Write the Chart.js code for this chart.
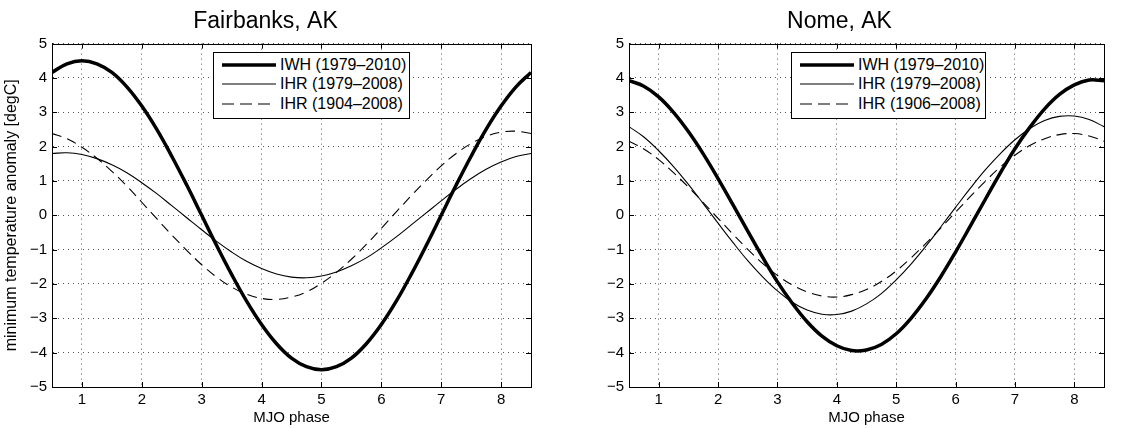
<!DOCTYPE html>
<html>
<head>
<meta charset="utf-8">
<script src="https://cdn.jsdelivr.net/npm/chart.js@4"></script>
<style>
  html, body { margin: 0; padding: 0; background: #fff; overflow: hidden; }
  body { width: 1135px; height: 428px; position: relative; font-family: "Liberation Sans", Arial, sans-serif; }
  .panel { position: absolute; top: 0; height: 428px; }
  .legend { position: absolute; top: 52px; height: 67px; background: #fff; border: 1px solid #000; font-size: 16px; color: #000; box-sizing: border-box; padding: 2px 0 0 8px; }
  .legend .row { height: 19.5px; display: flex; align-items: center; white-space: nowrap; }
  .legend svg { margin-right: 4px; }
</style>
</head>
<body>
<div class="panel" style="left:0;width:565px"><canvas id="fairbanksChart"></canvas></div>
<div class="panel" style="left:575px;width:560px"><canvas id="nomeChart"></canvas></div>
<div class="legend" id="legendFairbanks" style="left:213px;width:197px"></div>
<div class="legend" id="legendNome" style="left:791px;width:195px"></div>

<script>
// MJO phase sampled every quarter phase
const phases = [0.5, 0.75, 1, 1.25, 1.5, 1.75, 2, 2.25, 2.5, 2.75, 3, 3.25, 3.5, 3.75, 4, 4.25, 4.5,
                4.75, 5, 5.25, 5.5, 5.75, 6, 6.25, 6.5, 6.75, 7, 7.25, 7.5, 7.75, 8, 8.25, 8.5];
const yTicks = [-5, -4, -3, -2, -1, 0, 1, 2, 3, 4, 5];
const xTicks = [1, 2, 3, 4, 5, 6, 7, 8];

// Fairbanks, AK
const fairbanksIWH = [4.16, 4.41, 4.5, 4.41, 4.16, 3.74, 3.18, 2.5, 1.72, 0.88, 0.0, -0.88, -1.72, -2.5, -3.18, -3.74, -4.16,
                      -4.41, -4.5, -4.41, -4.16, -3.74, -3.18, -2.5, -1.72, -0.88, 0.0, 0.88, 1.72, 2.5, 3.18, 3.74, 4.16];
const fairbanksIHR79 = [1.8, 1.82, 1.77, 1.65, 1.47, 1.24, 0.95, 0.63, 0.28, -0.07, -0.42, -0.76, -1.07, -1.34, -1.55, -1.71, -1.8,
                        -1.82, -1.77, -1.65, -1.47, -1.24, -0.95, -0.63, -0.28, 0.07, 0.42, 0.76, 1.07, 1.34, 1.55, 1.71, 1.8];
const fairbanksIHR04 = [2.38, 2.23, 1.98, 1.66, 1.28, 0.85, 0.38, -0.1, -0.57, -1.02, -1.44, -1.8, -2.09, -2.3, -2.42, -2.45, -2.38,
                        -2.23, -1.98, -1.66, -1.28, -0.85, -0.38, 0.1, 0.57, 1.02, 1.44, 1.8, 2.09, 2.3, 2.42, 2.45, 2.38];

// Nome, AK
const nomeIWH = [3.92, 3.76, 3.45, 3.0, 2.44, 1.79, 1.07, 0.31, -0.46, -1.22, -1.94, -2.56, -3.1, -3.52, -3.8, -3.94, -3.92,
                 -3.76, -3.45, -3.0, -2.44, -1.79, -1.07, -0.31, 0.46, 1.22, 1.94, 2.56, 3.1, 3.52, 3.8, 3.94, 3.92];
const nomeIHR79 = [2.58, 2.28, 1.88, 1.42, 0.9, 0.34, -0.23, -0.79, -1.32, -1.79, -2.2, -2.53, -2.76, -2.88, -2.89, -2.79, -2.58,
                   -2.28, -1.88, -1.42, -0.9, -0.34, 0.23, 0.79, 1.32, 1.79, 2.2, 2.53, 2.76, 2.88, 2.89, 2.79, 2.58];
const nomeIHR06 = [2.16, 1.93, 1.62, 1.24, 0.82, 0.37, -0.09, -0.55, -0.99, -1.4, -1.75, -2.03, -2.23, -2.35, -2.38, -2.31, -2.16,
                   -1.93, -1.62, -1.24, -0.82, -0.37, 0.09, 0.55, 0.99, 1.4, 1.75, 2.03, 2.23, 2.35, 2.38, 2.31, 2.16];

const fairbanksLabels = ["IWH (1979\u20132010)", "IHR (1979\u20132008)", "IHR (1904\u20132008)"];
const nomeLabels = ["IWH (1979\u20132010)", "IHR (1979\u20132008)", "IHR (1906\u20132008)"];

Chart.defaults.font.family = '"Liberation Sans", Arial, sans-serif';
Chart.defaults.color = "#000";

const lineStyles = [
    { borderWidth: 3.5, borderDash: [] },
    { borderWidth: 1.1, borderDash: [] },
    { borderWidth: 1.1, borderDash: [10, 6] }
];

function toPoints(values) {
    return phases.map((p, i) => ({ x: p, y: values[i] }));
}

// box round the plot plus inward tick marks, like the original figure
const frameBox = {
    id: "frameBox",
    afterDatasetsDraw(chart) {
        const { ctx, chartArea: a, scales } = chart;
        ctx.save();
        ctx.strokeStyle = "#000";
        ctx.lineWidth = 1;
        ctx.setLineDash([]);
        ctx.strokeRect(Math.round(a.left) + 0.5, Math.round(a.top) + 0.5, Math.round(a.right - a.left), Math.round(a.bottom - a.top));
        ctx.beginPath();
        xTicks.forEach(v => {
            const px = Math.round(scales.x.getPixelForValue(v)) + 0.5;
            ctx.moveTo(px, a.top); ctx.lineTo(px, a.top + 5);
            ctx.moveTo(px, a.bottom); ctx.lineTo(px, a.bottom - 5);
        });
        yTicks.forEach(v => {
            const py = Math.round(scales.y.getPixelForValue(v)) + 0.5;
            ctx.moveTo(a.left, py); ctx.lineTo(a.left + 5, py);
            ctx.moveTo(a.right, py); ctx.lineTo(a.right - 5, py);
        });
        ctx.stroke();
        ctx.restore();
    }
};

const gridStyle = { color: "#555", lineWidth: 1, drawTicks: false };
const borderStyle = { display: true, color: "#000", width: 1, dash: [1, 4] };

function makeChart(canvasId, title, seriesList, labels, opts) {
    const datasets = seriesList.map((values, i) => ({
        label: labels[i],
        data: toPoints(values),
        borderColor: "#000",
        borderWidth: lineStyles[i].borderWidth,
        borderDash: lineStyles[i].borderDash,
        pointRadius: 0,
        tension: 0.4,
        fill: false
    }));
    return new Chart(document.getElementById(canvasId), {
        type: "line",
        data: { datasets },
        options: {
            responsive: true,
            maintainAspectRatio: false,
            animation: false,
            events: [],
            layout: { padding: { left: opts.padLeft, right: opts.padRight, top: 0, bottom: 0 } },
            plugins: {
                legend: { display: false },
                tooltip: { enabled: false },
                title: {
                    display: true,
                    text: title,
                    font: { size: 23, weight: "normal" },
                    padding: { top: 8, bottom: 8 }
                }
            },
            scales: {
                x: {
                    type: "linear",
                    min: 0.5,
                    max: 8.5,
                    afterBuildTicks: axis => { axis.ticks = xTicks.map(v => ({ value: v })); },
                    afterFit: axis => { axis.height = 41; },
                    ticks: { font: { size: 15 }, padding: 4 },
                    grid: gridStyle,
                    border: borderStyle,
                    title: { display: true, text: "MJO phase", font: { size: 15 }, padding: { top: 0, bottom: 1 } }
                },
                y: {
                    min: -5,
                    max: 5,
                    afterBuildTicks: axis => { axis.ticks = yTicks.map(v => ({ value: v })); },
                    afterFit: axis => { axis.width = opts.yWidth; },
                    ticks: { font: { size: 15 }, padding: 5, callback: v => String(v).replace("-", "\u2212") },
                    grid: gridStyle,
                    border: borderStyle,
                    title: {
                        display: opts.yTitle,
                        text: "minimum temperature anomaly [degC]",
                        font: { size: 16 },
                        padding: { top: 2, bottom: 0 }
                    }
                }
            }
        },
        plugins: [frameBox]
    });
}

function buildLegend(id, labels) {
    const box = document.getElementById(id);
    labels.forEach((text, i) => {
        const s = lineStyles[i];
        const row = document.createElement("div");
        row.className = "row";
        row.innerHTML = '<svg width="54" height="6"><line x1="0" y1="3" x2="54" y2="3" stroke="#000" stroke-width="' +
            s.borderWidth + '" stroke-dasharray="' + (s.borderDash.length ? "12,6" : "none") + '"/></svg>' +
            '<span>' + text + '</span>';
        box.appendChild(row);
    });
}

makeChart("fairbanksChart", "Fairbanks, AK", [fairbanksIWH, fairbanksIHR79, fairbanksIHR04], fairbanksLabels,
    { padLeft: 0, padRight: 34, yWidth: 52, yTitle: true });
makeChart("nomeChart", "Nome, AK", [nomeIWH, nomeIHR79, nomeIHR06], nomeLabels,
    { padLeft: 0, padRight: 31, yWidth: 54, yTitle: false });

buildLegend("legendFairbanks", fairbanksLabels);
buildLegend("legendNome", nomeLabels);
</script>
</body>
</html>
